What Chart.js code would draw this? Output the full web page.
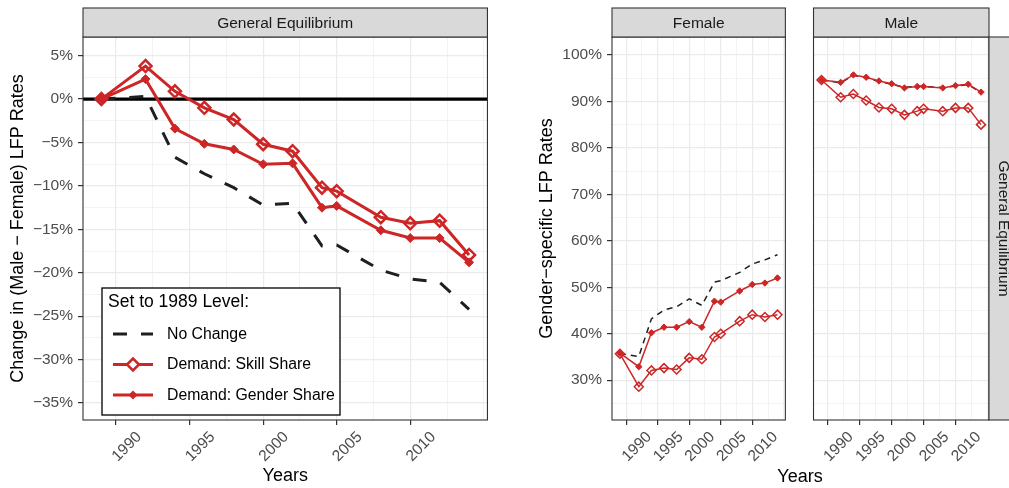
<!DOCTYPE html>
<html>
<head>
<meta charset="utf-8">
<script src="https://cdn.jsdelivr.net/npm/chart.js@4"></script>
<style>
  body { margin: 0; background: #fff; width: 1009px; height: 488px; overflow: hidden; position: relative; font-family: "Liberation Sans", Arial, sans-serif; }
  canvas { position: absolute; top: 0; }
  #yearsRight { position: absolute; left: 700px; width: 200px; top: 467px; text-align: center; font-size: 18px; line-height: 18px; color: #000; }
</style>
</head>
<body>
<canvas id="gapChart" width="500" height="488" style="left:0"></canvas>
<canvas id="femaleChart" width="300" height="488" style="left:500px"></canvas>
<canvas id="maleChart" width="209" height="488" style="left:800px"></canvas>
<div id="yearsRight">Years</div>
<script>
// Años observados
const YEARS = [1989, 1992, 1994, 1996, 1998, 2000, 2002, 2004, 2005, 2008, 2010, 2012, 2014];

// Panel izquierdo: cambio en la brecha (Male - Female), en %
const gapNoChange = [0, 0.3, -6.7, -8.6, -10.2, -12.2, -12.0, -16.9, -16.8, -19.7, -20.7, -21.1, -24.2];
const gapSkillShare = [0, 3.8, 0.9, -1.0, -2.35, -5.2, -6.0, -10.2, -10.6, -13.6, -14.3, -14.0, -17.95];
const gapGenderShare = [0, 2.3, -3.4, -5.15, -5.8, -7.5, -7.4, -12.5, -12.3, -15.1, -16.0, -16.0, -18.8];

// Panel derecho: tasas LFP por género, en %
const femaleNoChange = [35.7, 35.1, 43.2, 45.1, 45.8, 47.5, 46.1, 51.1, 51.4, 53.2, 55.0, 55.9, 57.0];
const femaleSkillShare = [35.7, 28.6, 32.1, 32.6, 32.3, 34.8, 34.5, 39.3, 40.0, 42.7, 44.1, 43.6, 44.1];
const femaleGenderShare = [35.8, 32.9, 40.2, 41.4, 41.4, 42.6, 41.4, 47.0, 46.8, 49.2, 50.6, 50.9, 52.0];
const maleNoChange = [94.6, 94.0, 95.6, 95.1, 94.3, 93.7, 93.0, 93.3, 93.2, 93.0, 93.3, 93.6, 91.9];
const maleSkillShare = [94.6, 90.9, 91.6, 90.2, 88.7, 88.4, 87.1, 87.9, 88.4, 87.9, 88.6, 88.6, 85.0];
const maleGenderShare = [94.6, 94.1, 95.7, 95.2, 94.4, 93.8, 92.9, 93.2, 93.2, 92.9, 93.4, 93.7, 92.0];

// Etiquetas de ejes
const X_LABELS = [1990, 1995, 2000, 2005, 2010];
const GAP_TICKS = [-35, -30, -25, -20, -15, -10, -5, 0, 5];
const LFP_TICKS = [30, 40, 50, 60, 70, 80, 90, 100];
const SERIES_NAMES = ["No Change", "Demand: Skill Share", "Demand: Gender Share"];
const LEGEND_TITLE = "Set to 1989 Level:";

const RED = "#CD2626";
const DARK = "#1F1F1F";
const GRID = "#EBEBEB";
const FONT = '"Liberation Sans", Arial, sans-serif';
Chart.defaults.font.family = FONT;

const pct = v => (v < 0 ? "\u2212" + Math.abs(v) : String(v)) + "%";

// Escala X compartida (líneas mayores y menores cada 2.5 años)
function xScale() {
  return {
    type: "linear", min: 1987.75, max: 2015.25,
    afterBuildTicks: s => {
      const t = [];
      for (let k = 0; k <= 12; k++) {
        const v = 1987.5 + k * 2.5;
        if (v >= s.min && v <= s.max) t.push({ value: v });
      }
      s.ticks = t;
    },
    afterFit: s => { s.height = 68; },
    grid: {
      color: GRID,
      lineWidth: c => X_LABELS.includes(c.tick.value) ? 1.2 : 0.6,
      tickColor: c => X_LABELS.includes(c.tick.value) ? "#333" : "rgba(0,0,0,0)",
      tickLength: 5,
    },
    border: { display: false },
    ticks: {
      autoSkip: false, minRotation: 45, maxRotation: 45, labelOffset: 23, padding: 3,
      color: "#4D4D4D", font: { size: 15.5 },
      callback: v => X_LABELS.includes(v) ? String(v) : "",
    },
  };
}

function yScale(min, max, majors, width, showLabels) {
  return {
    min, max,
    afterBuildTicks: s => {
      const t = [];
      for (let k = -20; k <= 50; k++) {
        const v = k * 2.5;
        if (v >= s.min && v <= s.max && (majors === LFP_TICKS ? v % 5 === 0 : true)) t.push({ value: v });
      }
      s.ticks = t;
    },
    afterFit: s => { s.width = width; },
    grid: {
      color: GRID,
      lineWidth: c => majors.includes(c.tick.value) ? 1.2 : 0.6,
      tickColor: c => showLabels && majors.includes(c.tick.value) ? "#333" : "rgba(0,0,0,0)",
      tickLength: showLabels ? 5 : 0,
      drawTicks: showLabels,
    },
    border: { display: false },
    ticks: {
      display: showLabels, padding: 5, color: "#4D4D4D", font: { size: 15.5 },
      callback: v => majors.includes(v) ? pct(v) : "",
    },
  };
}

function makeSets(noChange, skill, gender, big) {
  const pts = vals => YEARS.map((y, i) => ({ x: y, y: vals[i] }));
  const lw = big ? 3 : 1.5;
  return [
    { label: SERIES_NAMES[0], data: pts(noChange), borderColor: DARK, borderWidth: lw,
      borderDash: big ? [14, 14] : [6, 5], pointRadius: 0, order: 3 },
    { label: SERIES_NAMES[1], data: pts(skill), borderColor: RED, borderWidth: lw,
      pointStyle: "rectRot", pointRadius: big ? 6 : 4.5, pointBorderWidth: big ? 2.5 : 1.5,
      pointBorderColor: RED, pointBackgroundColor: "rgba(0,0,0,0)", order: 2 },
    { label: SERIES_NAMES[2], data: pts(gender), borderColor: RED, borderWidth: lw,
      pointStyle: "rectRot", pointRadius: big ? 4.5 : 3.2, pointBorderWidth: 1,
      pointBorderColor: RED, pointBackgroundColor: RED, order: 1 },
  ];
}

// Bordes del panel, tiras grises (facets) y línea de cero
const panelDecor = {
  id: "panelDecor",
  beforeDatasetsDraw(chart, args, opts) {
    if (!opts.zeroLine) return;
    const { ctx, chartArea: a } = chart;
    const y0 = chart.scales.y.getPixelForValue(0);
    ctx.save();
    ctx.strokeStyle = "#000"; ctx.lineWidth = 3.2;
    ctx.beginPath(); ctx.moveTo(a.left, y0); ctx.lineTo(a.right, y0); ctx.stroke();
    ctx.restore();
  },
  afterDraw(chart, args, opts) {
    const { ctx, chartArea: a } = chart;
    const w = a.right - a.left, h = a.bottom - a.top;
    ctx.save();
    ctx.lineWidth = 1.1; ctx.strokeStyle = "#333";
    ctx.strokeRect(a.left, a.top, w, h);
    ctx.fillStyle = "#D9D9D9";
    ctx.fillRect(a.left, 8, w, a.top - 8);
    ctx.strokeRect(a.left, 8, w, a.top - 8);
    ctx.fillStyle = "#1A1A1A"; ctx.font = "15.5px " + FONT;
    ctx.textAlign = "center"; ctx.textBaseline = "middle";
    ctx.fillText(opts.top, a.left + w / 2, (8 + a.top) / 2 + 1);
    if (opts.side) {
      ctx.fillStyle = "#D9D9D9";
      ctx.fillRect(a.right, a.top, 30, h);
      ctx.strokeRect(a.right, a.top, 30, h);
      ctx.fillStyle = "#1A1A1A";
      ctx.translate(a.right + 14, a.top + h / 2);
      ctx.rotate(Math.PI / 2);
      ctx.fillText(opts.side, 0, 0);
    }
    ctx.restore();
  },
};

// Leyenda dentro del panel izquierdo
const boxLegend = {
  id: "boxLegend",
  afterDraw(chart) {
    const ctx = chart.ctx;
    ctx.save();
    ctx.fillStyle = "#fff"; ctx.strokeStyle = "#000"; ctx.lineWidth = 1.3;
    ctx.fillRect(102, 288, 238, 127);
    ctx.strokeRect(102, 288, 238, 127);
    ctx.fillStyle = "#000"; ctx.textAlign = "left"; ctx.textBaseline = "middle";
    ctx.font = "17.5px " + FONT;
    ctx.fillText(LEGEND_TITLE, 108, 302);
    const rows = [334, 364.5, 395];
    ctx.font = "15.8px " + FONT;
    rows.forEach((ry, i) => {
      ctx.lineWidth = 3;
      ctx.strokeStyle = i === 0 ? DARK : RED;
      ctx.setLineDash(i === 0 ? [14, 14] : []);
      ctx.beginPath(); ctx.moveTo(113, ry); ctx.lineTo(153, ry); ctx.stroke();
      ctx.setLineDash([]);
      if (i > 0) {
        const r = i === 1 ? 6 : 4.5;
        ctx.beginPath();
        ctx.moveTo(133 - r, ry); ctx.lineTo(133, ry - r); ctx.lineTo(133 + r, ry); ctx.lineTo(133, ry + r);
        ctx.closePath();
        if (i === 1) { ctx.fillStyle = "#fff"; ctx.fill(); ctx.lineWidth = 2.5; ctx.stroke(); }
        else { ctx.fillStyle = RED; ctx.fill(); }
      }
      ctx.fillStyle = "#000";
      ctx.fillText(SERIES_NAMES[i], 167, ry + 0.5);
    });
    ctx.restore();
  },
};

const baseOptions = {
  responsive: false, animation: false,
  plugins: { legend: { display: false }, tooltip: { enabled: false } },
};

// Gráfico izquierdo: brecha
const gapX = xScale();
gapX.title = { display: true, text: "Years", color: "#000", font: { size: 18 }, padding: { top: 0, bottom: 1 } };
const gapY = yScale(-36.95, 7.15, GAP_TICKS, 83, true);
gapY.title = { display: true, text: "Change in (Male \u2212 Female) LFP Rates", color: "#000", font: { size: 18 }, padding: { top: 7, bottom: 0 } };
new Chart(document.getElementById("gapChart"), {
  type: "line",
  data: { datasets: makeSets(gapNoChange, gapSkillShare, gapGenderShare, true) },
  options: { ...baseOptions,
    layout: { padding: { top: 37, right: 8, left: 0, bottom: 0 } },
    plugins: { ...baseOptions.plugins, panelDecor: { top: "General Equilibrium", zeroLine: true } },
    scales: { x: gapX, y: gapY } },
  plugins: [panelDecor, boxLegend],
});

// Gráfico derecho: Female
const femY = yScale(21.43, 103.86, LFP_TICKS, 112, true);
femY.title = { display: true, text: "Gender\u2212specific LFP Rates", color: "#000", font: { size: 18 }, padding: { top: 36, bottom: 0 } };
new Chart(document.getElementById("femaleChart"), {
  type: "line",
  data: { datasets: makeSets(femaleNoChange, femaleSkillShare, femaleGenderShare, false) },
  options: { ...baseOptions,
    layout: { padding: { top: 37, right: 5, left: 0, bottom: 0 } },
    plugins: { ...baseOptions.plugins, panelDecor: { top: "Female" } },
    scales: { x: xScale(), y: femY } },
  plugins: [panelDecor],
});

// Gráfico derecho: Male
new Chart(document.getElementById("maleChart"), {
  type: "line",
  data: { datasets: makeSets(maleNoChange, maleSkillShare, maleGenderShare, false) },
  options: { ...baseOptions,
    layout: { padding: { top: 37, right: 20, left: 0, bottom: 0 } },
    plugins: { ...baseOptions.plugins, panelDecor: { top: "Male", side: "General Equilibrium" } },
    scales: { x: xScale(), y: yScale(21.43, 103.86, LFP_TICKS, 6, false) } },
  plugins: [panelDecor],
});
</script>
</body>
</html>
